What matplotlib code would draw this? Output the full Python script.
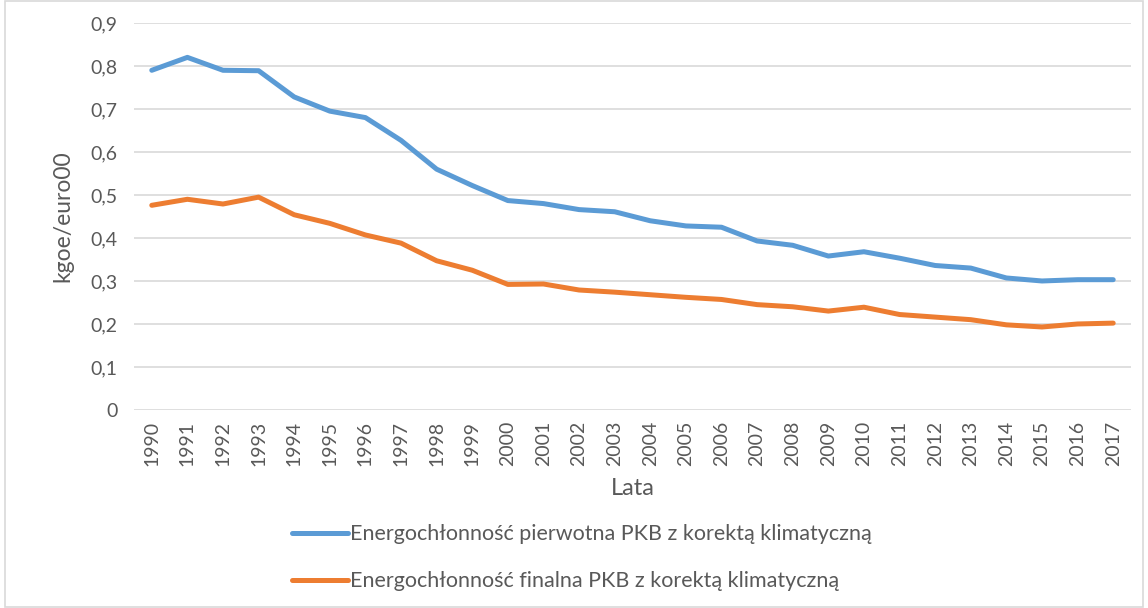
import matplotlib.pyplot as plt
from matplotlib.patches import Rectangle

plt.rcParams['font.family'] = ['Lato', 'DejaVu Sans']

years = list(range(1990, 2018))
pierwotna = [0.790, 0.820, 0.790, 0.789, 0.728, 0.695, 0.680, 0.627, 0.560, 0.522,
             0.487, 0.480, 0.466, 0.461, 0.440, 0.428, 0.425, 0.393, 0.383, 0.358,
             0.368, 0.353, 0.336, 0.330, 0.307, 0.300, 0.303, 0.303]
finalna = [0.476, 0.490, 0.479, 0.495, 0.454, 0.434, 0.407, 0.388, 0.347, 0.325,
           0.292, 0.293, 0.279, 0.274, 0.268, 0.262, 0.257, 0.245, 0.240, 0.230,
           0.239, 0.222, 0.216, 0.210, 0.198, 0.193, 0.200, 0.202]
labels = ['Energochłonność pierwotna PKB z korektą klimatyczną',
          'Energochłonność finalna PKB z korektą klimatyczną']
yticks = [0, 0.1, 0.2, 0.3, 0.4, 0.5, 0.6, 0.7, 0.8, 0.9]

txt = '#595959'
fig = plt.figure(figsize=(11.48, 6.08), dpi=100)
ax = fig.add_axes([0.1167, 0.3257, 0.8685, 0.6365])

x = range(len(years))
ax.plot(x, pierwotna, color='#5B9BD5', lw=3.6, solid_capstyle='round', label=labels[0])
ax.plot(x, finalna, color='#ED7D31', lw=3.6, solid_capstyle='round', label=labels[1])

ax.set_xlim(-0.5, len(years) - 0.5)
ax.set_ylim(0, 0.9)
ax.set_yticks(yticks)
ax.set_yticklabels([('%.1f' % v).replace('.', ',') if v else '0' for v in yticks])
ax.set_xticks(list(x))
ax.set_xticklabels([str(y) for y in years], rotation=90)
ax.tick_params(length=0, labelsize=14, colors=txt)
ax.tick_params(axis='x', pad=8)
ax.tick_params(axis='y', pad=12)
ax.grid(axis='y', color='#D9D9D9', lw=1.2)
ax.set_axisbelow(True)
for s in ax.spines.values():
    s.set_visible(False)

ax.set_ylabel('kgoe/euro00', fontsize=16.5, color=txt, labelpad=12)
ax.set_xlabel('Lata', fontsize=17, color=txt, labelpad=8)

fig.legend(loc='upper left', bbox_to_anchor=(0.247, 0.152), frameon=False,
           fontsize=15.5, labelcolor=txt, handlelength=2.6, handletextpad=0.08,
           labelspacing=1.25, borderaxespad=0)

fig.patches.append(Rectangle((0.004, 0.002), 0.992, 0.996, transform=fig.transFigure,
                             fill=False, edgecolor='#D9D9D9', lw=1.2))

fig.savefig('out.png', dpi=100)
